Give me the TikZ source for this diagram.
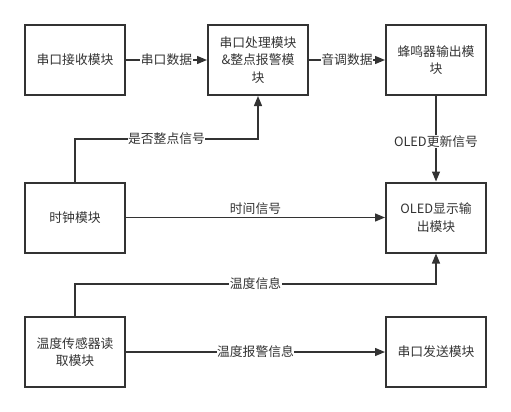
\documentclass[tikz,border=0pt]{standalone}
\usepackage{fontspec}
\setmainfont{Noto Sans CJK SC}
\usetikzlibrary{arrows.meta}
\definecolor{ln}{HTML}{333333}
\definecolor{tx}{HTML}{333333}
\tikzset{
  x=1pt,y=-1pt,
  blk/.style={draw=ln,line width=2pt,minimum width=100pt,minimum height=70pt,inner sep=0pt,align=center,font=\fontsize{12.8}{17.5}\selectfont,text=tx},
  conn/.style={draw=ln,line width=1.3pt,-{Triangle[length=10pt,width=8pt]}},
  lbl/.style={fill=white,inner sep=0.5pt,font=\fontsize{12.8}{14}\selectfont,text=tx}
}
\begin{document}
\begin{tikzpicture}
\useasboundingbox (0,0) rectangle (511,412);
\node[blk] (rx) at (75,60) {串口接收模块};
\node[blk] (proc) at (258,60) {串口处理模块\\\&整点报警模\\块};
\node[blk] (buz) at (436,60) {蜂鸣器输出模\\块};
\node[blk] (clk) at (75,217.5) {时钟模块};
\node[blk] (oled) at (436,217.5) {OLED显示输\\出模块};
\node[blk] (tmp) at (75,352) {温度传感器读\\取模块};
\node[blk] (tx) at (436,352) {串口发送模块};
\coordinate (c1) at (75,139);
\coordinate (c2) at (258,139);
\coordinate (c3) at (75,284);
\coordinate (c4) at (436,284);
\draw[conn] (rx) -- node[lbl] {串口数据} (proc);
\draw[conn] (proc) -- node[lbl] {音调数据} (buz);
\draw[conn] (clk.north) -- (c1) -- node[lbl,pos=0.5] {是否整点信号} (c2) -- (proc.south);
\draw[conn] (buz) -- node[lbl,pos=0.53] {OLED更新信号} (oled);
\draw[conn] (clk) -- node[lbl,above=2pt,fill=none] {时间信号} (oled);
\draw[conn] (tmp.north) -- (c3) -- node[lbl] {温度信息} (c4) -- (oled.south);
\draw[conn] (tmp) -- node[lbl] {温度报警信息} (tx);
\end{tikzpicture}
\end{document}
